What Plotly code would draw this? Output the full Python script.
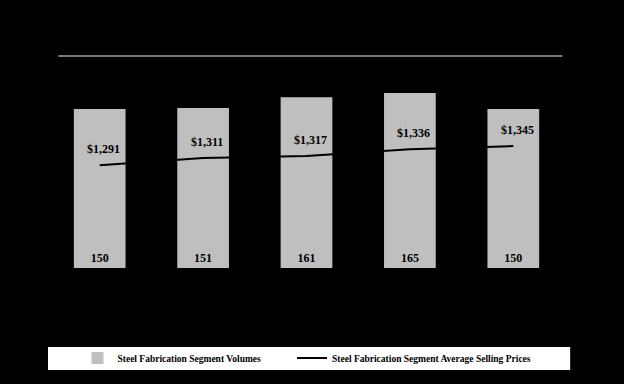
import plotly.graph_objects as go

quarters = ["Q1 FY17", "Q2 FY17", "Q3 FY17", "Q4 FY17", "Q1 FY18"]
volumes = [150, 151, 161, 165, 150]
prices = [1291, 1311, 1317, 1336, 1345]
price_labels = ["$1,291", "$1,311", "$1,317", "$1,336", "$1,345"]
left_ticks = [0, 25, 50, 75, 100, 125, 150, 175, 200]
right_ticks = [1000, 1100, 1200, 1300, 1400, 1500, 1600]
right_tick_labels = ["$1,000", "$1,100", "$1,200", "$1,300", "$1,400", "$1,500", "$1,600"]

serif = "Liberation Serif, Times New Roman, serif"

fig = go.Figure()
fig.add_trace(go.Bar(
    x=quarters, y=volumes, name="Steel Fabrication Segment Volumes",
    marker=dict(color="#bfbfbf", line=dict(width=0)), width=0.5,
    text=[str(v) for v in volumes], textposition="inside", insidetextanchor="start",
    textfont=dict(family=serif, size=12, color="black", weight="bold"), yaxis="y",
    legend="legend",
))
fig.add_trace(go.Scatter(
    x=quarters, y=prices, name="Steel Fabrication Segment Average Selling Prices",
    mode="lines", line=dict(color="black", width=2), yaxis="y2",
    legend="legend2",
))

annotations = [
    dict(text="Steel Fabrication Operations Segment", xref="paper", yref="paper",
         x=0.5, y=1.2, showarrow=False, font=dict(size=13, color="black", weight="bold")),
    dict(text="Volumes and Average Selling Price", xref="paper", yref="paper",
         x=0.5, y=1.085, showarrow=False, font=dict(size=11, color="black", weight="bold")),
    dict(text="Fiscal Year 2017", xref="paper", yref="paper", x=0.4, y=-0.14,
         showarrow=False, font=dict(size=9, color="black", weight="bold")),
    dict(text="Fiscal Year 2018", xref="paper", yref="paper", x=0.9, y=-0.14,
         showarrow=False, font=dict(size=9, color="black", weight="bold")),
]
for q, p, lbl in zip(quarters, prices, price_labels):
    annotations.append(dict(x=q, y=p, yref="y2", text=lbl, showarrow=False, yshift=16, xshift=4,
                            font=dict(family=serif, size=12, color="black", weight="bold")))

legend_font = dict(family=serif, size=9.5, color="black", weight="bold")

fig.update_layout(
    width=624, height=384,
    paper_bgcolor="black", plot_bgcolor="black",
    margin=dict(l=48, r=59, t=56, b=116),
    font=dict(family=serif, size=10, color="black", weight="bold"),
    showlegend=True,
    bargap=0.5,
    xaxis=dict(showgrid=False, showline=False, ticks="", tickfont=dict(size=8, color="black")),
    yaxis=dict(range=[0, 200], tickvals=left_ticks, showgrid=False, zeroline=False,
               showline=False, tickfont=dict(size=9, color="black"),
               title=dict(text="Tons (Shipped, in thousands)", font=dict(size=9, color="black"), standoff=8)),
    yaxis2=dict(range=[1000, 1600], tickvals=right_ticks, ticktext=right_tick_labels,
                overlaying="y", side="right", showgrid=False, zeroline=False, showline=False,
                tickfont=dict(size=9, color="black"),
                title=dict(text="Average Selling Price (per ton)", font=dict(size=9, color="black"), standoff=8)),
    legend=dict(orientation="h", x=0.057, xanchor="left", y=-0.425, yanchor="middle",
                bgcolor="rgba(0,0,0,0)", font=legend_font),
    legend2=dict(orientation="h", x=0.472, xanchor="left", y=-0.425, yanchor="middle",
                 bgcolor="rgba(0,0,0,0)", font=legend_font),
    shapes=[
        dict(type="line", xref="paper", yref="paper", x0=0.02, x1=0.995, y0=1, y1=1,
             line=dict(color="#a0a0a0", width=1.5)),
        dict(type="rect", xref="paper", yref="paper", x0=0.0, x1=1.01, y0=-0.373, y1=-0.481,
             fillcolor="white", line=dict(width=0), layer="below"),
    ],
    annotations=annotations,
)
fig.write_html("out.html", config={"displayModeBar": False},
               post_script="document.body.style.margin='0';document.body.style.background='black';")
